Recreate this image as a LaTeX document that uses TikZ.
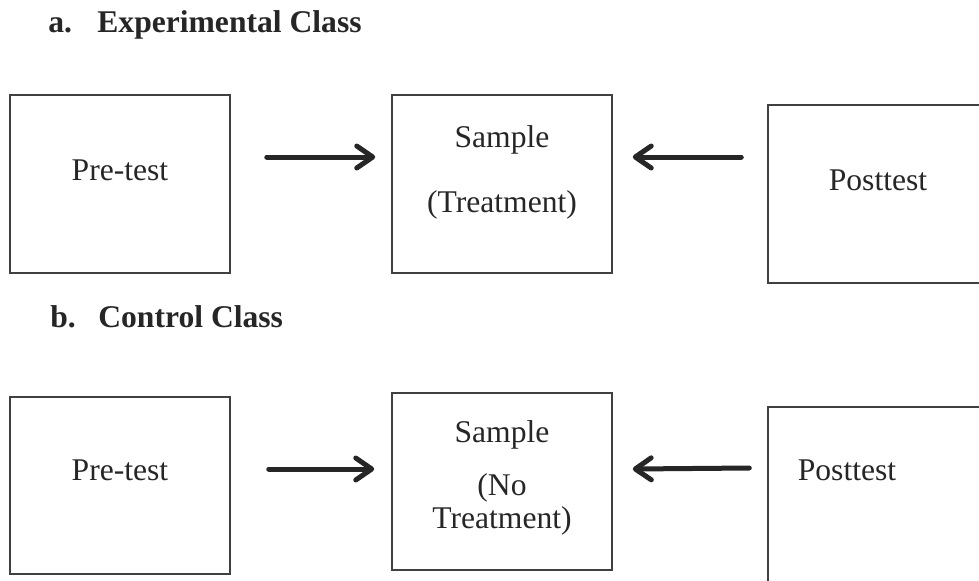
\documentclass[tikz,border=0pt]{standalone}
\usepackage{fontspec}
\setmainfont{Liberation Serif}
\usetikzlibrary{arrows.meta}

\tikzset{
  box/.style={draw=black!75, line width=0.75pt, minimum width=110pt, inner sep=0pt},
  txt/.style={text=black!85, font=\fontsize{15.8}{19}\selectfont, anchor=base, inner sep=0pt},
  heading/.style={text=black!85, font=\fontsize{15.8}{19}\selectfont\bfseries, anchor=base west, inner sep=0pt},
  arr/.style={line width=2.5pt, draw=black!85, line cap=round,
    -{Straight Barb[length=8pt,width=11pt,line cap=round,line join=round]}}
}

\begin{document}
\begin{tikzpicture}[x=0.5pt,y=-0.5pt]
    \useasboundingbox (0,0) rectangle (979,580);

    % experimental class
    \node[heading] (ha) at (48,32) {\makebox[24.5pt][l]{a.}Experimental Class};
    \node[box, minimum height=89pt] (pre1) at (120,184) {};
    \node[box, minimum height=89pt] (samp1) at (502,184) {};
    \node[box, minimum height=89pt] (post1) at (878,194) {};
    \node[txt] (pretxt1) at (120,180) {Pre-test};
    \node[txt] (samptxt1) at (502,147) {Sample};
    \node[txt] (treattxt1) at (502,212) {(Treatment)};
    \node[txt] (posttxt1) at (878,190) {Posttest};
    \draw[arr] ([shift={(36,-27)}]pre1.east) -- ([shift={(-16,-27)}]samp1.west);
    \draw[arr] ([shift={(-26,-37)}]post1.west) -- ([shift={(20,-27)}]samp1.east);

    % control class
    \node[heading] (hb) at (50,327) {\makebox[24pt][l]{b.}Control Class};
    \node[box, minimum height=88.5pt] (pre2) at (120,485.5) {};
    \node[box, minimum height=88.5pt] (samp2) at (502,481.5) {};
    \node[box, minimum height=89pt] (post2) at (878,496) {};
    \node[txt] (pretxt2) at (120,480) {Pre-test};
    \node[txt] (samptxt2) at (502,442) {Sample};
    \node[txt] (notxt2) at (502,495) {(No};
    \node[txt] (treattxt2) at (502,528) {Treatment)};
    \node[txt] (posttxt2) at (847,480) {Posttest};
    \draw[arr] ([shift={(38,-16.5)}]pre2.east) -- ([shift={(-17,-12.5)}]samp2.west);
    \draw[arr] ([shift={(-18,-28)}]post2.west) -- ([shift={(20,-12.5)}]samp2.east);
\end{tikzpicture}
\end{document}
